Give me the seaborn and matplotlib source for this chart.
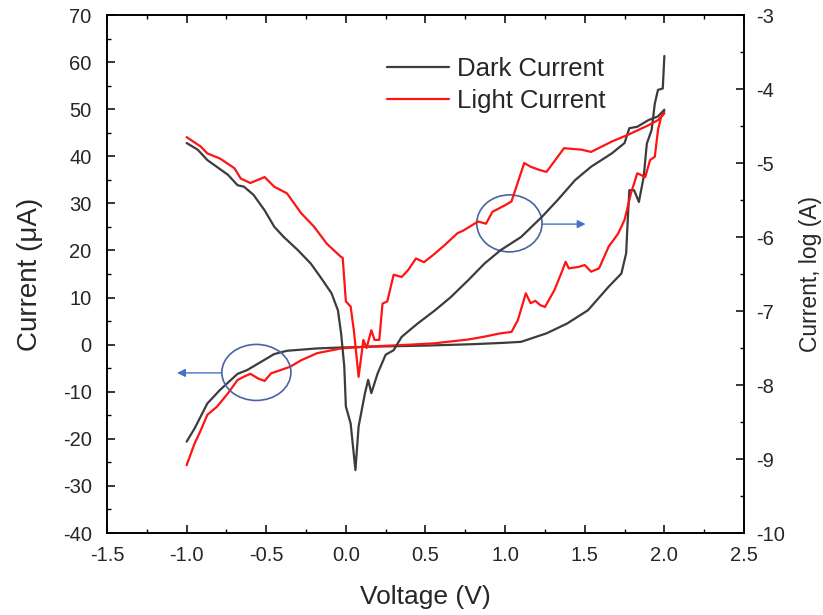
import numpy as np
import pandas as pd
import matplotlib
matplotlib.use("Agg")
import matplotlib.pyplot as plt
from matplotlib.patches import Ellipse
from matplotlib.ticker import MultipleLocator, FormatStrFormatter
import seaborn as sns

# ---- I-V data: linear current (uA, left axis) ----
dark_lin_v = [-1.00, -0.95, -0.87, -0.79, -0.68, -0.62, -0.53, -0.45, -0.37, -0.18,
              -0.03, 0.20, 0.50, 0.80, 1.00, 1.10, 1.26, 1.39, 1.52, 1.65, 1.73,
              1.76, 1.77, 1.78, 1.81, 1.84, 1.87, 1.89, 1.92, 1.94, 1.96, 1.99, 2.00]
dark_lin_i = [-20.6, -17.8, -12.5, -9.6, -6.2, -5.4, -3.6, -2.0, -1.3, -0.8,
              -0.6, -0.4, -0.2, 0.1, 0.4, 0.6, 2.4, 4.5, 7.3, 12.3, 15.1,
              19.4, 26.5, 32.8, 32.8, 30.3, 35.6, 42.7, 45.6, 51.2, 54.1, 54.4, 61.3]

light_lin_v = [-1.00, -0.95, -0.91, -0.87, -0.81, -0.74, -0.68, -0.64, -0.60, -0.55,
               -0.51, -0.47, -0.41, -0.35, -0.28, -0.18, -0.03, 0.14, 0.35, 0.56,
               0.77, 0.87, 0.97, 1.04, 1.08, 1.13, 1.16, 1.19, 1.22, 1.25, 1.31,
               1.36, 1.38, 1.40, 1.46, 1.50, 1.54, 1.59, 1.65, 1.71, 1.75, 1.79,
               1.83, 1.88, 1.91, 1.94, 1.96, 1.98, 2.00]
light_lin_i = [-25.6, -21.0, -18.1, -14.9, -13.2, -10.3, -7.5, -6.8, -6.2, -7.2,
               -7.7, -6.1, -5.4, -4.7, -3.3, -1.8, -0.8, -0.4, -0.1, 0.3,
               1.1, 1.7, 2.4, 2.7, 5.2, 10.9, 8.8, 9.3, 8.4, 8.0, 11.6,
               15.8, 17.6, 16.2, 16.5, 16.9, 15.5, 16.2, 20.8, 23.6, 26.5, 32.1,
               36.4, 35.6, 39.2, 39.9, 45.6, 48.4, 49.5]

# ---- I-V data: log current (log A, right axis) ----
dark_log_v = [-1.00, -0.93, -0.87, -0.74, -0.68, -0.64, -0.58, -0.51, -0.45, -0.39,
              -0.30, -0.22, -0.16, -0.09, -0.05, -0.03, -0.01, 0.00, 0.03, 0.06,
              0.08, 0.12, 0.14, 0.16, 0.20, 0.25, 0.30, 0.35, 0.45, 0.56, 0.66,
              0.77, 0.87, 0.97, 1.10, 1.23, 1.33, 1.44, 1.54, 1.67, 1.75, 1.78,
              1.83, 1.90, 1.96, 2.00]
dark_log_i = [-4.73, -4.82, -4.96, -5.16, -5.30, -5.32, -5.43, -5.64, -5.86, -6.00,
              -6.18, -6.36, -6.54, -6.76, -6.99, -7.30, -7.75, -8.29, -8.52, -9.15,
              -8.56, -8.11, -7.93, -8.11, -7.84, -7.59, -7.53, -7.35, -7.17, -6.99, -6.81,
              -6.58, -6.36, -6.18, -6.00, -5.73, -5.50, -5.23, -5.05, -4.87, -4.73, -4.53,
              -4.51, -4.42, -4.37, -4.28]

light_log_v = [-1.00, -0.91, -0.87, -0.79, -0.70, -0.66, -0.60, -0.51, -0.45, -0.37,
               -0.28, -0.20, -0.12, -0.03, -0.02, 0.00, 0.03, 0.05, 0.08, 0.11,
               0.13, 0.16, 0.18, 0.21, 0.23, 0.26, 0.30, 0.35, 0.39, 0.44, 0.49,
               0.55, 0.62, 0.70, 0.74, 0.83, 0.88, 0.92, 1.00, 1.04, 1.12, 1.16,
               1.21, 1.26, 1.37, 1.48, 1.54, 1.67, 1.77, 1.90, 1.96, 2.00]
light_log_i = [-4.65, -4.78, -4.87, -4.94, -5.07, -5.21, -5.27, -5.19, -5.32, -5.41,
               -5.68, -5.86, -6.09, -6.27, -6.28, -6.87, -6.94, -7.26, -7.89, -7.39,
               -7.50, -7.26, -7.39, -7.39, -6.90, -6.87, -6.51, -6.54, -6.45, -6.29, -6.34,
               -6.24, -6.11, -5.95, -5.91, -5.79, -5.82, -5.66, -5.57, -5.52, -5.00, -5.05,
               -5.09, -5.12, -4.80, -4.82, -4.85, -4.71, -4.62, -4.49, -4.42, -4.33]

DARK = "#3c3c3c"
LIGHT = "#ff1414"
BLUE_RING = "#4a64a0"
BLUE_ARROW = "#4472c4"

sns.set_style("white")
plt.rcParams["font.family"] = ["Liberation Sans", "DejaVu Sans"]
plt.rcParams["axes.unicode_minus"] = False

fig = plt.figure(figsize=(8.23, 6.15), dpi=100)
ax = fig.add_axes([0.130, 0.1333, 0.774, 0.8423])
ax2 = ax.twinx()

def frame(v, i):
    return pd.DataFrame({"V": v, "I": i})

lw = 1.6
sns.lineplot(data=frame(dark_lin_v, dark_lin_i), x="V", y="I", ax=ax,
             color=DARK, lw=lw, sort=False, estimator=None, label="Dark Current")
sns.lineplot(data=frame(light_lin_v, light_lin_i), x="V", y="I", ax=ax,
             color=LIGHT, lw=lw, sort=False, estimator=None, label="Light Current")
sns.lineplot(data=frame(dark_log_v, dark_log_i), x="V", y="I", ax=ax2,
             color=DARK, lw=lw, sort=False, estimator=None, legend=False)
sns.lineplot(data=frame(light_log_v, light_log_i), x="V", y="I", ax=ax2,
             color=LIGHT, lw=lw, sort=False, estimator=None, legend=False)

ax.set_xlim(-1.5, 2.5)
ax.set_ylim(-40, 70)
ax2.set_ylim(-10, -3)

ax.xaxis.set_major_locator(MultipleLocator(0.5))
ax.xaxis.set_minor_locator(MultipleLocator(0.25))
ax.xaxis.set_major_formatter(FormatStrFormatter("%.1f"))
ax.yaxis.set_major_locator(MultipleLocator(10))
ax.yaxis.set_minor_locator(MultipleLocator(5))
ax2.yaxis.set_major_locator(MultipleLocator(1))
ax2.yaxis.set_minor_locator(MultipleLocator(0.5))

for a in (ax, ax2):
    for s in a.spines.values():
        s.set_color("black")
        s.set_linewidth(1.2)
ax.tick_params(axis="x", which="both", direction="in", top=True, bottom=True,
               color="black")
ax.tick_params(axis="y", which="both", direction="in", left=True, right=False,
               color="black")
ax2.tick_params(axis="y", which="both", direction="in", right=True, left=False,
                color="black")
for a in (ax, ax2):
    a.tick_params(which="major", length=6, width=1.1, labelsize=14.5)
    a.tick_params(which="minor", length=3, width=1.0)
ax.tick_params(axis="x", which="major", pad=9)
ax.tick_params(axis="y", which="major", pad=11)
ax2.tick_params(axis="y", which="major", pad=9)

ax.set_xlabel("Voltage (V)", fontsize=19, labelpad=15)
ax.set_ylabel("Current (\u03bcA)", fontsize=20, labelpad=14)
ax2.set_ylabel("Current, log (A)", fontsize=16.5, labelpad=10)

# Highlight rings with arrows pointing at the matching axis
ax.add_patch(Ellipse((-0.562, -5.9), 0.434, 11.9, fill=False,
                     edgecolor=BLUE_RING, lw=1.2, zorder=5))
ax.add_patch(Ellipse((1.027, 25.75), 0.41, 12.1, fill=False,
                     edgecolor=BLUE_RING, lw=1.2, zorder=5))
ax.annotate("", xy=(-1.06, -6.0), xytext=(-0.78, -6.0),
            arrowprops=dict(arrowstyle="-|>", color=BLUE_ARROW, lw=1.0,
                            mutation_scale=12, shrinkA=0, shrinkB=0))
ax.annotate("", xy=(1.505, 25.6), xytext=(1.233, 25.6),
            arrowprops=dict(arrowstyle="-|>", color=BLUE_ARROW, lw=1.0,
                            mutation_scale=12, shrinkA=0, shrinkB=0))

ax.legend(loc="upper left", bbox_to_anchor=(0.44, 0.918), frameon=False,
          fontsize=18.5, handlelength=2.4, handletextpad=0.3, labelspacing=0.3,
          borderpad=0, borderaxespad=0)

fig.savefig("out.png", dpi=100, facecolor="white")
